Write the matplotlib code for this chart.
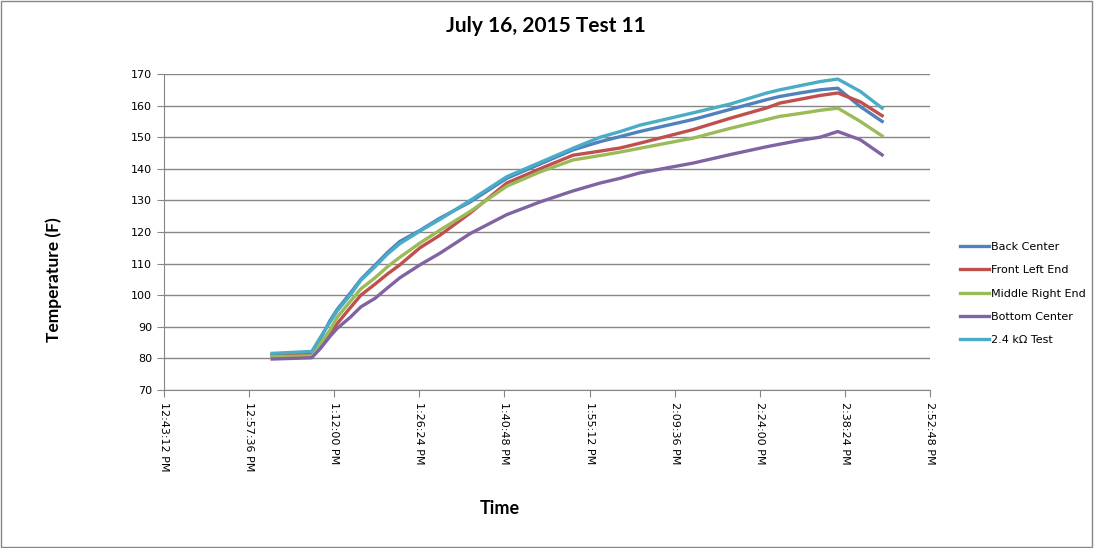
import matplotlib.pyplot as plt
from matplotlib.patches import Rectangle

# time in minutes after 12:00 PM
times = [61.5, 68.2, 69.6, 71.3, 72.5, 74.7, 76.5, 78.9, 81.0, 83.1, 86.5, 89.9,
         95.0, 101.2, 106.8, 112.4, 117.0, 120.4, 123.7, 132.7, 139.0, 145.2,
         147.4, 150.8, 154.2, 157.2, 161.0, 164.7]

back_center = [81.3, 81.8, 86, 92, 95.5, 100.6, 105, 109.5, 113.5, 117, 120.5, 124.4,
               129.5, 137, 141.5, 146, 148.6, 150.2, 151.8, 155.6, 158.8, 161.9,
               162.9, 164, 165, 165.5, 159.7, 155]
front_left = [81, 81.2, 84, 88, 91, 96, 100, 103.5, 106.7, 109.6, 115, 119,
              126, 135.5, 140, 144.3, 145.6, 146.6, 148.1, 152.4, 156, 159.3,
              160.8, 162, 163.2, 164, 161.2, 156.8]
middle_right = [80.5, 80.8, 84.5, 89, 93, 98, 102, 105.5, 109, 112, 116.5, 120.6,
                126.5, 134.5, 139, 142.8, 144.2, 145.3, 146.5, 149.7, 152.8, 155.6,
                156.6, 157.5, 158.5, 159.2, 155, 150.4]
bottom_center = [79.8, 80.2, 83, 87, 89.5, 93, 96.3, 99, 102.3, 105.5, 109.6, 113.3,
                 119.5, 125.5, 129.5, 133, 135.5, 137, 138.7, 141.8, 144.5, 147,
                 147.8, 149, 150, 151.8, 149.2, 144.4]
test_24k = [81.6, 82.2, 86.5, 91.5, 95, 100, 104.7, 109, 113, 116.3, 120.3, 124,
            130, 137.5, 142, 146.5, 150, 151.8, 153.8, 157.7, 160.5, 164,
            165, 166.3, 167.6, 168.4, 164.5, 159.2]

series = [('Back Center', back_center, '#4F81BD'),
          ('Front Left End', front_left, '#C0504D'),
          ('Middle Right End', middle_right, '#9BBB59'),
          ('Bottom Center', bottom_center, '#8064A2'),
          ('2.4 k\u03a9 Test', test_24k, '#4BACC6')]

xticks = [43.2 + 14.4 * k for k in range(10)]


def fmt_time(m):
    s = int(round(m * 60))
    h = 12 + s // 3600
    mm = (s % 3600) // 60
    ss = s % 60
    hh = h if h <= 12 else h - 12
    return '%d:%02d:%02d PM' % (hh, mm, ss)


fig = plt.figure(figsize=(10.94, 5.48), dpi=100)
ax = fig.add_axes([164 / 1094, 1 - 390 / 548, 766 / 1094, 316 / 548])

for name, vals, col in series:
    ax.plot(times, vals, color=col, lw=2.4, label=name)

grid_c = '#868686'
ax.set_xlim(43.2, 172.8)
ax.set_ylim(70, 170)
ax.set_yticks(range(70, 171, 10))
ax.set_xticks(xticks)
ax.set_xticklabels([fmt_time(t) for t in xticks], rotation=270)
ax.yaxis.grid(True, color=grid_c, lw=1)
ax.set_axisbelow(True)
for s in ['top', 'right']:
    ax.spines[s].set_visible(False)
for s in ['left', 'bottom']:
    ax.spines[s].set_color(grid_c)
ax.tick_params(colors=grid_c, length=5, direction='out', labelsize=8, labelcolor='black')

fig.text(546 / 1094, 1 - 26 / 548, 'July 16, 2015 Test 11', ha='center', va='center',
         fontsize=15, fontweight='bold', family='Lato')
fig.text(500 / 1094, 1 - 509 / 548, 'Time', ha='center', va='center',
         fontsize=13, fontweight='bold', family='Lato')
fig.text(54 / 1094, 1 - 280 / 548, 'Temperature (F)', ha='center', va='center',
         rotation=90, fontsize=12.5, fontweight='bold', family='Lato')

fig.legend(loc='upper left', bbox_to_anchor=(950 / 1094, 1 - 232 / 548), frameon=False,
           fontsize=8, handlelength=2.6, handletextpad=0.2, labelspacing=1.2)

fig.patches.append(Rectangle((0.001, 0.002), 0.997, 0.996, transform=fig.transFigure,
                             fill=False, edgecolor=grid_c, lw=1))

plt.savefig('out.png', dpi=100)
